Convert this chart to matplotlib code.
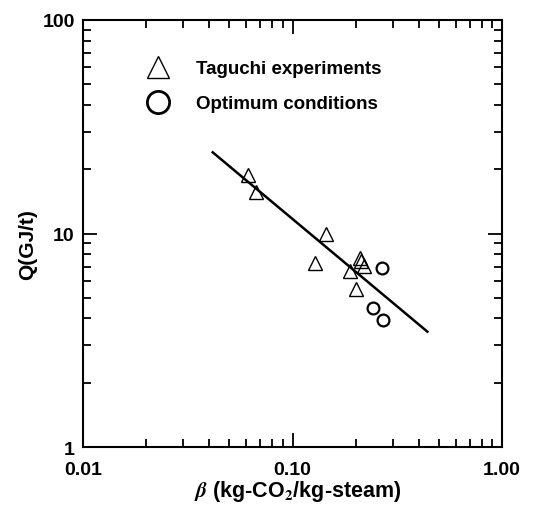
import matplotlib.pyplot as plt
from matplotlib.ticker import LogLocator, FixedLocator, FixedFormatter, NullFormatter

plt.rcParams['font.family'] = ['Liberation Sans', 'DejaVu Sans']
plt.rcParams['font.weight'] = 'bold'
plt.rcParams['mathtext.fontset'] = 'stix'

# Taguchi experiments
taguchi_beta = [0.061, 0.0667, 0.145, 0.128, 0.21, 0.213, 0.219, 0.188, 0.20]
taguchi_q = [18.8, 15.6, 10.0, 7.25, 7.65, 7.4, 7.07, 6.65, 5.5]

# Optimum conditions
optimum_beta = [0.267, 0.243, 0.269]
optimum_q = [6.9, 4.46, 3.95]

# fitted line
fit_beta = [0.0416, 0.44]
fit_q = [24.0, 3.47]

x_ticks = [0.01, 0.1, 1.0]
x_labels = ['0.01', '0.10', '1.00']
y_ticks = [1, 10, 100]
y_labels = ['1', '10', '100']

fig = plt.figure(figsize=(5.33, 5.06), dpi=100)
ax = fig.add_axes([0.1557, 0.1146, 0.7863, 0.8439])

ax.plot(fit_beta, fit_q, color='black', lw=1.8)
ax.plot(taguchi_beta, taguchi_q, linestyle='none', marker='^', ms=10,
        mfc='none', mec='black', mew=1.0, label='Taguchi experiments')
ax.plot(optimum_beta, optimum_q, linestyle='none', marker='o', ms=8.5,
        mfc='none', mec='black', mew=1.6, label='Optimum conditions')

ax.set_xscale('log')
ax.set_yscale('log')
ax.set_xlim(0.01, 1.0)
ax.set_ylim(1, 100)

ax.xaxis.set_major_locator(FixedLocator(x_ticks))
ax.xaxis.set_major_formatter(FixedFormatter(x_labels))
ax.yaxis.set_major_locator(FixedLocator(y_ticks))
ax.yaxis.set_major_formatter(FixedFormatter(y_labels))
ax.xaxis.set_minor_locator(LogLocator(base=10, subs=range(2, 10)))
ax.yaxis.set_minor_locator(LogLocator(base=10, subs=range(2, 10)))
ax.xaxis.set_minor_formatter(NullFormatter())
ax.yaxis.set_minor_formatter(NullFormatter())

ax.tick_params(which='both', direction='in', top=True, right=True, width=1.3)
ax.tick_params(which='major', length=10, labelsize=14)
ax.tick_params(axis='x', which='major', pad=10)
ax.tick_params(axis='y', which='major', pad=6)
ax.tick_params(which='minor', length=5.5)
for lab in ax.get_xticklabels() + ax.get_yticklabels():
    lab.set_fontweight('bold')
for s in ax.spines.values():
    s.set_linewidth(1.5)

ax.set_xlabel(r'$\beta$ (kg-CO$_\mathbf{2}$/kg-steam)', fontsize=15.5, fontweight='bold')
ax.set_ylabel('Q(GJ/t)', fontsize=15, fontweight='bold')
ax.xaxis.set_label_coords(0.512, -0.072)
ax.yaxis.set_label_coords(-0.11, 0.477)

leg = ax.legend(loc='upper left', bbox_to_anchor=(0.094, 0.945), frameon=False,
                handletextpad=1.0, labelspacing=0.95,
                prop={'weight': 'bold', 'size': 13.5})
leg.legend_handles[0].set_markersize(15.8)
leg.legend_handles[1].set_markersize(16)
leg.legend_handles[1].set_markeredgewidth(2)

fig.savefig('out.png', dpi=100)
